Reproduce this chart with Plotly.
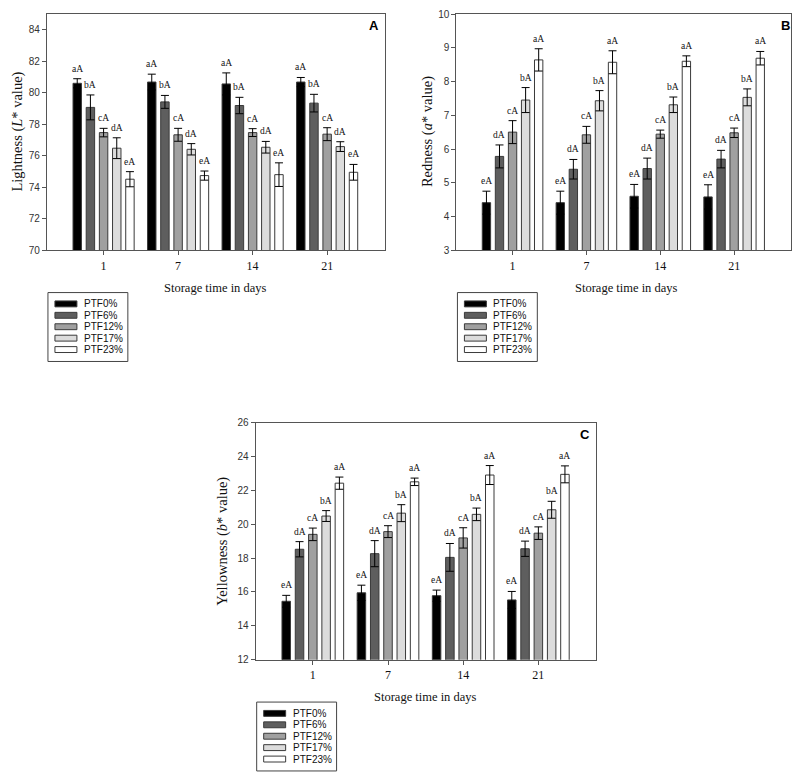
import plotly.graph_objects as go

# ---------------- data ----------------
days = ["1", "7", "14", "21"]
series = ["PTF0%", "PTF6%", "PTF12%", "PTF17%", "PTF23%"]

L_vals = [
    [80.60, 80.68, 80.56, 80.68],   # PTF0%
    [79.07, 79.42, 79.19, 79.34],   # PTF6%
    [77.47, 77.33, 77.47, 77.37],   # PTF12%
    [76.48, 76.41, 76.54, 76.58],   # PTF17%
    [74.51, 74.74, 74.80, 74.95],   # PTF23%
]
L_err = [
    [0.29, 0.50, 0.70, 0.29],
    [0.79, 0.41, 0.52, 0.56],
    [0.27, 0.41, 0.25, 0.41],
    [0.66, 0.36, 0.37, 0.31],
    [0.48, 0.29, 0.75, 0.50],
]
L_letters = ["aA", "bA", "cA", "dA", "eA"]

a_vals = [
    [4.41, 4.41, 4.60, 4.58],
    [5.78, 5.40, 5.42, 5.70],
    [6.50, 6.42, 6.44, 6.48],
    [7.45, 7.43, 7.31, 7.53],
    [8.64, 8.57, 8.60, 8.69],
]
a_err = [
    [0.34, 0.34, 0.35, 0.36],
    [0.34, 0.29, 0.31, 0.26],
    [0.34, 0.25, 0.12, 0.14],
    [0.37, 0.30, 0.23, 0.25],
    [0.33, 0.34, 0.16, 0.20],
]
a_letters = ["eA", "dA", "cA", "bA", "aA"]

b_vals = [
    [15.45, 15.95, 15.78, 15.53],
    [18.52, 18.26, 18.04, 18.55],
    [19.40, 19.56, 19.19, 19.47],
    [20.48, 20.65, 20.58, 20.85],
    [22.42, 22.50, 22.90, 22.94],
]
b_err = [
    [0.35, 0.45, 0.33, 0.50],
    [0.45, 0.77, 0.82, 0.45],
    [0.37, 0.35, 0.60, 0.37],
    [0.32, 0.50, 0.37, 0.50],
    [0.36, 0.22, 0.56, 0.50],
]
b_letters = ["eA", "dA", "cA", "bA", "aA"]

# ---------------- style ----------------
PAGE_W, PAGE_H = 800, 783
OFF = 8                      # default body margin of the html page
W, H = PAGE_W - 2 * OFF, PAGE_H - 2 * OFF
colors = ["#000000", "#5e5e5e", "#a0a0a0", "#dcdcdc", "#ffffff"]
outline = "#3a3a3a"
SERIF = "Liberation Serif, Times New Roman, serif"
SANS = "Liberation Sans, Arial, sans-serif"
BARGAP = 0.116
BARGROUPGAP = 0.36
XRANGE = [-0.76, 3.77]

def px_x(p):
    return (p - OFF) / W

def px_y(p):
    return 1 - (p - OFF) / H

# panels: (left, right, top, bottom) in page px
panels = [
    dict(name="A", box=(47, 385, 7, 248), yr=[70, 85], dt=2, vals=L_vals, err=L_err,
         letters=L_letters, ytitle="Lightness (<i>L</i>* value)", ytx=18),
    dict(name="B", box=(457, 797, 7, 248), yr=[3, 10], dt=1, vals=a_vals, err=a_err,
         letters=a_letters, ytitle="Redness (<i>a</i>* value)", ytx=428),
    dict(name="C", box=(256, 597, 423, 664), yr=[12, 26], dt=2, vals=b_vals, err=b_err,
         letters=b_letters, ytitle="Yellowness (<i>b</i>* value)", ytx=222),
]

fig = go.Figure()
annotations = []
shapes = []
xpos = list(range(len(days)))
slot = (1 - BARGAP) / len(series)

for k, p in enumerate(panels):
    sfx = "" if k == 0 else str(k + 1)
    xa, ya = "x" + sfx, "y" + sfx
    l, r, t, b = p["box"]
    for j, name in enumerate(series):
        fig.add_trace(go.Bar(
            x=xpos, y=p["vals"][j], name=name, xaxis=xa, yaxis=ya,
            showlegend=False,
            marker=dict(color=colors[j], line=dict(color=outline, width=1)),
            error_y=dict(type="data", array=p["err"][j], symmetric=True,
                         color="#000000", thickness=1, width=4),
        ))
        for i in xpos:
            annotations.append(dict(
                x=i + (j - 2) * slot, y=p["vals"][j][i] + p["err"][j][i],
                xref=xa, yref=ya, text=p["letters"][j], showarrow=False,
                yanchor="bottom", yshift=3,
                font=dict(family=SERIF, size=9.5, color="#111111"),
            ))
    axis_common = dict(showline=True, linecolor="#555555", linewidth=1, mirror=True,
                       ticks="outside", ticklen=4, tickcolor="#555555",
                       showgrid=False, zeroline=False)
    fig.layout["xaxis" + sfx] = dict(
        domain=[max(0, px_x(l)), min(1, px_x(r))], anchor=ya, range=XRANGE,
        tickvals=xpos, ticktext=days,
        tickfont=dict(family=SERIF, size=12, color="#111111"), **axis_common)
    fig.layout["yaxis" + sfx] = dict(
        domain=[max(0, px_y(b)), min(1, px_y(t))], anchor=xa, range=p["yr"], dtick=p["dt"],
        tick0=p["yr"][0],
        tickfont=dict(family=SANS, size=10, color="#333333"), **axis_common)

    # y title
    annotations.append(dict(
        x=px_x(p["ytx"]), y=px_y((t + b) / 2), xref="paper", yref="paper",
        text=p["ytitle"], textangle=-90, showarrow=False,
        xanchor="center", yanchor="middle",
        font=dict(family=SERIF, size=14.5, color="#111111")))
    # x title
    annotations.append(dict(
        x=px_x((l + r) / 2), y=px_y(b + 38), xref="paper", yref="paper",
        text="Storage time in days", showarrow=False,
        xanchor="center", yanchor="middle",
        font=dict(family=SERIF, size=12.5, color="#111111")))
    # panel letter
    annotations.append(dict(
        x=px_x(r - 4), y=px_y(t + 3), xref="paper", yref="paper",
        text="<b>%s</b>" % p["name"], showarrow=False,
        xanchor="right", yanchor="top",
        font=dict(family=SANS, size=13, color="#000000")))

    # legend (drawn box)
    bl, bt = l + 1, b + 43
    shapes.append(dict(type="rect", xref="paper", yref="paper",
                       x0=px_x(bl), x1=px_x(bl + 80), y0=px_y(bt), y1=px_y(bt + 70),
                       line=dict(color="#444444", width=1), fillcolor="white"))
    for j, name in enumerate(series):
        cy = bt + 11.5 + j * 11.6
        shapes.append(dict(type="rect", xref="paper", yref="paper",
                           x0=px_x(bl + 7), x1=px_x(bl + 29),
                           y0=px_y(cy - 3), y1=px_y(cy + 3),
                           line=dict(color=outline, width=1), fillcolor=colors[j]))
        annotations.append(dict(
            x=px_x(bl + 34), y=px_y(cy), xref="paper", yref="paper",
            text=name, showarrow=False, xanchor="left", yanchor="middle",
            font=dict(family=SANS, size=10, color="#111111")))

fig.update_layout(
    width=W, height=H, barmode="group", bargap=BARGAP, bargroupgap=BARGROUPGAP,
    margin=dict(l=0, r=0, t=0, b=0), paper_bgcolor="white", plot_bgcolor="white",
    showlegend=False, annotations=annotations, shapes=shapes,
)

fig.write_html("out.html")
